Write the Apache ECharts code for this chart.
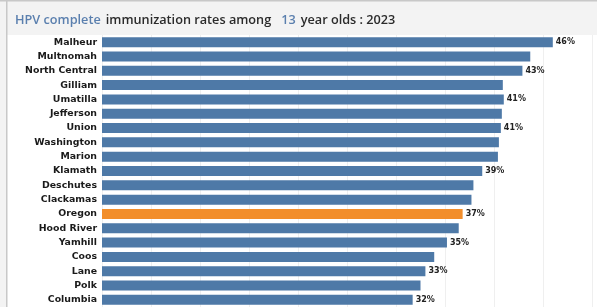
<!DOCTYPE html>
<html><head><meta charset="utf-8">
<script src="https://cdn.jsdelivr.net/npm/echarts@6/dist/echarts.min.js"></script>
<style>html,body{margin:0;padding:0;background:#fff}#c{width:597px;height:307px}</style>
</head><body><div id="c"></div>
<script>
const counties = ['Malheur','Multnomah','North Central','Gilliam','Umatilla','Jefferson','Union','Washington','Marion','Klamath','Deschutes','Clackamas','Oregon','Hood River','Yamhill','Coos','Lane','Polk','Columbia'];
const rates = [46.0,43.7,42.9,40.9,41.0,40.8,40.7,40.5,40.4,38.8,37.9,37.7,36.8,36.4,35.2,33.9,33.0,32.5,31.7];
const labeledCounties = ['Malheur','North Central','Umatilla','Union','Klamath','Oregon','Yamhill','Lane','Columbia'];
const highlight = 'Oregon';
const xTicks = [0,5,10,15,20,25,30,35,40,45,50];

const chart = echarts.init(document.getElementById('c'), null, {renderer:'canvas'});
const data = counties.map((c,i)=>({
  value: rates[i],
  itemStyle: {color: c===highlight ? '#f28e2b' : '#4e79a7'},
  label: {show: labeledCounties.includes(c)}
}));
chart.setOption({
  animation:false,
  graphic:[
    {type:'rect', shape:{x:0,y:0,width:597,height:35}, style:{fill:'#f3f3f3'}, z:-10},
    {type:'rect', shape:{x:0,y:0,width:7,height:307}, style:{fill:'#f3f3f3'}, z:-10},
    {type:'rect', shape:{x:0,y:0,width:597,height:1.5}, style:{fill:'#c8c8c8'}, z:-9},
    {type:'rect', shape:{x:6,y:0,width:1.5,height:307}, style:{fill:'#c8c8c8'}, z:-9}
  ],
  title:{
    left:10, top:6,
    text:'{b|HPV complete} {d|immunization rates among}  {b|13} {d|year olds : 2023}',
    textStyle:{
      rich:{
        b:{color:'#5a7fae', fontSize:12.7, fontFamily:'Open Sans', fontWeight:600},
        d:{color:'#2b2b2b', fontSize:12.7, fontFamily:'Open Sans', fontWeight:600}
      }
    }
  },
  grid:{left:102, right:5, top:35, height:272, containLabel:false},
  xAxis:{
    type:'value', min:0, max:50, interval:5,
    axisLabel:{show:false}, axisLine:{show:false}, axisTick:{show:false},
    splitLine:{show:true, lineStyle:{color:'#efefef', width:1}}
  },
  yAxis:{
    type:'category', data:counties, inverse:true,
    axisLine:{show:false}, axisTick:{show:false},
    axisLabel:{color:'#1a1a1a', fontSize:9.4, fontWeight:'bold', fontFamily:'DejaVu Sans', margin:5}
  },
  series:[{
    type:'bar', data:data, barWidth:10,
    label:{position:'right', distance:3, color:'#222', fontSize:8, fontWeight:'bold', fontFamily:'DejaVu Sans',
      formatter:p=>Math.round(p.value)+'%'}
  }]
});
</script></body></html>
